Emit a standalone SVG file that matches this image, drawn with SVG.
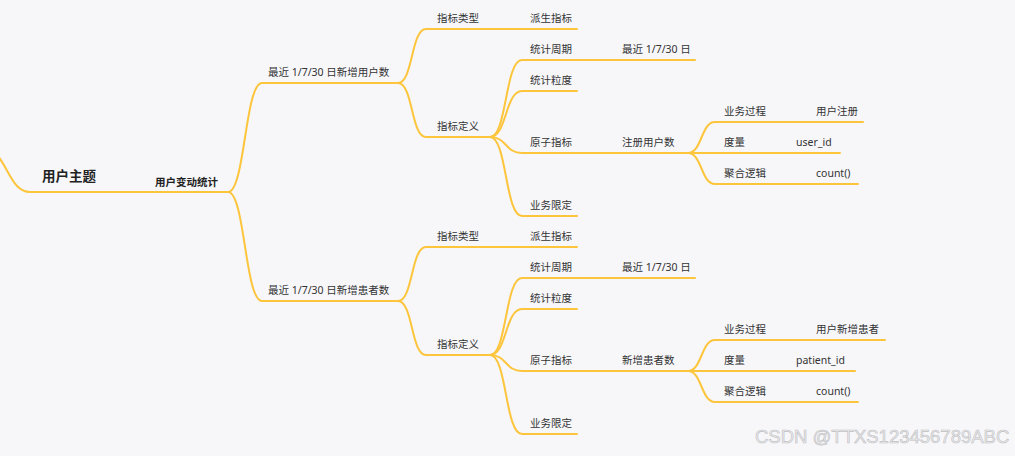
<svg xmlns="http://www.w3.org/2000/svg" width="1015" height="456" viewBox="0 0 1015 456">
<style>
.bg{fill:#f7f7fa}
.c{fill:none;stroke:#fcc53c;stroke-width:2;stroke-linecap:round}
text{font-family:"Noto Sans","Noto Sans CJK SC",sans-serif;font-size:10.5px;fill:#333}
.root{font-size:13.5px;font-weight:bold;fill:#222}
.main{font-size:10.5px;font-weight:bold;fill:#222}
.wm{font-family:"Liberation Sans",Arial,sans-serif;font-size:18.5px;fill:#ececee;stroke:#c0c0c2;stroke-width:0.6}
</style>
<rect class="bg" x="0" y="0" width="1015" height="456"/>
<g id="connectors">
  <path class="c" d="M-2,156 C10,172 14,192 30,192 H228"/>
  <!-- top branch -->
  <path class="c" d="M228,192 C245,192 245,83 262,83 H398"/>
  <path class="c" d="M398,83 C413,83 411,29 426,29 H577"/>
  <path class="c" d="M398,83 C413,83 411,137 426,137 H490"/>
  <path class="c" d="M490,137 C507,137 505,60 522,60 H695"/>
  <path class="c" d="M490,137 C507,137 505,91 522,91 H577"/>
  <path class="c" d="M490,137 C507,137 505,153 522,153 H840"/>
  <path class="c" d="M490,137 C507,137 505,216 522,216 H577"/>
  <path class="c" d="M688,153 C702,153 701,122 715,122 H863"/>
  <path class="c" d="M688,153 C702,153 701,184 715,184 H858"/>
  <!-- bottom branch -->
  <path class="c" d="M228,192 C245,192 245,301 262,301 H398"/>
  <path class="c" d="M398,301 C413,301 411,247 426,247 H577"/>
  <path class="c" d="M398,301 C413,301 411,355 426,355 H490"/>
  <path class="c" d="M490,355 C507,355 505,278 522,278 H695"/>
  <path class="c" d="M490,355 C507,355 505,309 522,309 H577"/>
  <path class="c" d="M490,355 C507,355 505,371 522,371 H855"/>
  <path class="c" d="M490,355 C507,355 505,434 522,434 H577"/>
  <path class="c" d="M688,371 C702,371 701,340 715,340 H885"/>
  <path class="c" d="M688,371 C702,371 701,402 715,402 H858"/>
</g>
<g id="root"><text class="root" x="42" y="181">用户主题</text></g>
<g id="n-main"><text class="main" x="155" y="186">用户变动统计</text></g>

<g id="n-user"><text x="268" y="76">最近 1/7/30 日新增用户数</text></g>
<g id="n-u-type"><text x="437" y="22">指标类型</text></g>
<g id="n-u-type-v"><text x="530" y="22">派生指标</text></g>
<g id="n-u-def"><text x="437" y="130">指标定义</text></g>
<g id="n-u-period"><text x="530" y="53">统计周期</text></g>
<g id="n-u-period-v"><text x="622" y="53">最近 1/7/30 日</text></g>
<g id="n-u-gran"><text x="530" y="84">统计粒度</text></g>
<g id="n-u-atom"><text x="530" y="146">原子指标</text></g>
<g id="n-u-atom-v"><text x="622" y="146">注册用户数</text></g>
<g id="n-u-proc"><text x="724" y="115">业务过程</text></g>
<g id="n-u-proc-v"><text x="816" y="115">用户注册</text></g>
<g id="n-u-meas"><text x="724" y="146">度量</text></g>
<g id="n-u-meas-v"><text x="796" y="146">user_id</text></g>
<g id="n-u-agg"><text x="724" y="177">聚合逻辑</text></g>
<g id="n-u-agg-v"><text x="816" y="177">count()</text></g>
<g id="n-u-limit"><text x="530" y="209">业务限定</text></g>

<g id="n-patient"><text x="268" y="294">最近 1/7/30 日新增患者数</text></g>
<g id="n-p-type"><text x="437" y="240">指标类型</text></g>
<g id="n-p-type-v"><text x="530" y="240">派生指标</text></g>
<g id="n-p-def"><text x="437" y="348">指标定义</text></g>
<g id="n-p-period"><text x="530" y="271">统计周期</text></g>
<g id="n-p-period-v"><text x="622" y="271">最近 1/7/30 日</text></g>
<g id="n-p-gran"><text x="530" y="302">统计粒度</text></g>
<g id="n-p-atom"><text x="530" y="364">原子指标</text></g>
<g id="n-p-atom-v"><text x="622" y="364">新增患者数</text></g>
<g id="n-p-proc"><text x="724" y="333">业务过程</text></g>
<g id="n-p-proc-v"><text x="816" y="333">用户新增患者</text></g>
<g id="n-p-meas"><text x="724" y="364">度量</text></g>
<g id="n-p-meas-v"><text x="796" y="364">patient_id</text></g>
<g id="n-p-agg"><text x="724" y="395">聚合逻辑</text></g>
<g id="n-p-agg-v"><text x="816" y="395">count()</text></g>
<g id="n-p-limit"><text x="530" y="427">业务限定</text></g>

<text class="wm" x="755" y="443">CSDN @TTXS123456789ABC</text>
</svg>
